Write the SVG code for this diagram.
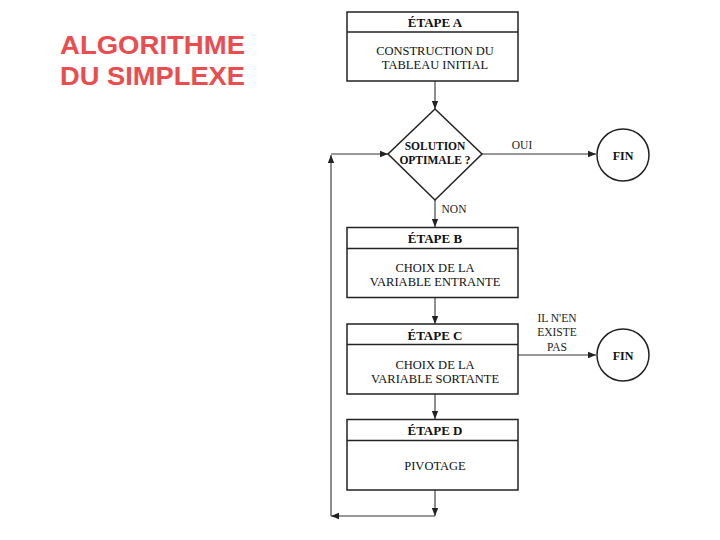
<svg xmlns="http://www.w3.org/2000/svg" width="720" height="540" viewBox="0 0 720 540">
<style>
.box{fill:#fff;stroke:#222;stroke-width:1.5}
.div{stroke:#222;stroke-width:1.5}
.ln{fill:none;stroke:#333;stroke-width:1.1}
.hd{font-family:"Liberation Serif",serif;font-weight:bold;font-size:13px;fill:#111;text-anchor:middle}
.tx{font-family:"Liberation Serif",serif;font-size:12.5px;fill:#111;text-anchor:middle}
.lb{font-family:"Liberation Serif",serif;font-size:11.5px;fill:#222;text-anchor:middle}
.title{font-family:"Liberation Sans",Arial,sans-serif;font-weight:bold;font-size:26.5px;fill:#E94D50}
</style>
<defs>
<marker id="ah" viewBox="0 0 10 10" refX="10" refY="5" markerWidth="8" markerHeight="8" markerUnits="userSpaceOnUse" orient="auto">
<path d="M0,1 L10,5 L0,9 Z" fill="#222"/>
</marker>
</defs>
<rect width="720" height="540" fill="#fff"/>
<g id="title">
<text class="title" x="60" y="53.5" textLength="185" lengthAdjust="spacingAndGlyphs">ALGORITHME</text>
<text class="title" x="60" y="85" textLength="185" lengthAdjust="spacingAndGlyphs">DU SIMPLEXE</text>
</g>
<g id="connectors">
<line class="ln" x1="435" y1="81" x2="435" y2="109" marker-end="url(#ah)"/>
<line class="ln" x1="482" y1="154" x2="596" y2="154" marker-end="url(#ah)"/>
<line class="ln" x1="435" y1="200" x2="435" y2="227" marker-end="url(#ah)"/>
<line class="ln" x1="435" y1="298" x2="435" y2="324" marker-end="url(#ah)"/>
<line class="ln" x1="518" y1="355" x2="596" y2="355" marker-end="url(#ah)"/>
<line class="ln" x1="435" y1="394" x2="435" y2="419" marker-end="url(#ah)"/>
<line class="ln" x1="435" y1="490" x2="435" y2="516" marker-end="url(#ah)"/>
<line class="ln" x1="435" y1="516" x2="331" y2="516" marker-end="url(#ah)"/>
<line class="ln" x1="331" y1="516" x2="331" y2="155" marker-end="url(#ah)"/>
<line class="ln" x1="331" y1="154" x2="388" y2="154" marker-end="url(#ah)"/>
<text class="lb" x="522" y="148.5">OUI</text>
<text class="lb" x="454" y="213">NON</text>
<text class="lb" x="557" y="322">IL N'EN</text>
<text class="lb" x="557" y="336">EXISTE</text>
<text class="lb" x="557" y="351">PAS</text>
</g>
<g id="etapeA">
<rect class="box" x="347" y="12" width="171" height="69"/>
<line class="div" x1="347" y1="32" x2="518" y2="32"/>
<text class="hd" x="435" y="26.5">ÉTAPE A</text>
<text class="tx" x="435" y="55">CONSTRUCTION DU</text>
<text class="tx" x="435" y="69">TABLEAU INITIAL</text>
</g>
<g id="decision">
<polygon class="box" points="435,109 482,154 435,200 388,154"/>
<text class="hd" x="435" y="150" style="font-size:11.5px">SOLUTION</text>
<text class="hd" x="435" y="164" style="font-size:11.5px">OPTIMALE ?</text>
</g>
<g id="fin1">
<circle class="box" cx="623" cy="155" r="26"/>
<text class="hd" x="623" y="159.5" style="font-size:12px">FIN</text>
</g>
<g id="etapeB">
<rect class="box" x="347" y="227.5" width="171" height="70"/>
<line class="div" x1="347" y1="248.5" x2="518" y2="248.5"/>
<text class="hd" x="435" y="243">ÉTAPE B</text>
<text class="tx" x="435" y="272">CHOIX DE LA</text>
<text class="tx" x="435" y="286">VARIABLE ENTRANTE</text>
</g>
<g id="etapeC">
<rect class="box" x="347" y="324" width="171" height="70"/>
<line class="div" x1="347" y1="344.5" x2="518" y2="344.5"/>
<text class="hd" x="435" y="339.5">ÉTAPE C</text>
<text class="tx" x="435" y="368.5">CHOIX DE LA</text>
<text class="tx" x="435" y="382.5">VARIABLE SORTANTE</text>
</g>
<g id="fin2">
<circle class="box" cx="623" cy="355" r="26"/>
<text class="hd" x="623" y="359.5" style="font-size:12px">FIN</text>
</g>
<g id="etapeD">
<rect class="box" x="347" y="419.5" width="171" height="70.5"/>
<line class="div" x1="347" y1="440.5" x2="518" y2="440.5"/>
<text class="hd" x="435" y="435">ÉTAPE D</text>
<text class="tx" x="435" y="470">PIVOTAGE</text>
</g>
</svg>
